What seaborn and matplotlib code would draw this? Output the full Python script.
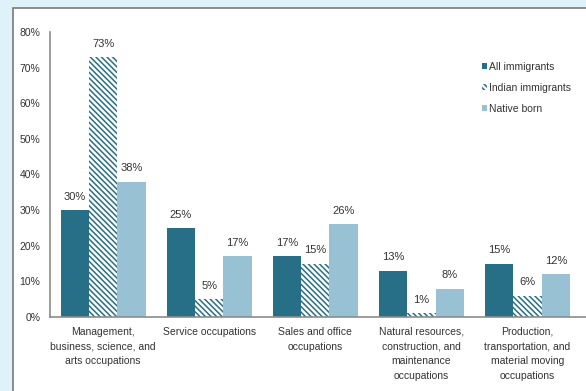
import matplotlib
matplotlib.use("Agg")
import matplotlib.pyplot as plt
from matplotlib.patches import Patch, Rectangle
import seaborn as sns
import pandas as pd

categories = [
    "Management,\nbusiness, science, and\narts occupations",
    "Service occupations",
    "Sales and office\noccupations",
    "Natural resources,\nconstruction, and\nmaintenance\noccupations",
    "Production,\ntransportation, and\nmaterial moving\noccupations",
]
series_names = ["All immigrants", "Indian immigrants", "Native born"]
all_immigrants = [30, 25, 17, 13, 15]
indian_immigrants = [73, 5, 15, 1, 6]
native_born = [38, 17, 26, 8, 12]
y_ticks = [0, 10, 20, 30, 40, 50, 60, 70, 80]

DARK = "#276f86"
LIGHT = "#98c2d3"
TEXT = "#333333"
HATCH = "\\" * 6

rows = []
for name, vals in zip(series_names, [all_immigrants, indian_immigrants, native_born]):
    for cat, v in zip(categories, vals):
        rows.append({"occupation": cat, "group": name, "pct": v})
df = pd.DataFrame(rows)

sns.set_theme(style="white")
plt.rcParams["font.family"] = ["Liberation Sans", "DejaVu Sans"]
plt.rcParams["hatch.linewidth"] = 1.1

fig = plt.figure(figsize=(5.86, 3.91), dpi=100)
fig.patch.set_facecolor("#dff1f9")
# white panel framing the chart
fig.patches.append(Rectangle((13 / 586, -0.1), 1.2, 1 - 8 / 391 + 0.1,
                             transform=fig.transFigure, facecolor="white",
                             edgecolor="#7a7a7a", linewidth=1.2, zorder=-10))

ax = fig.add_axes([50 / 586, 1 - 317 / 391, 536 / 586, 285 / 391])
ax.set_facecolor("none")

sns.barplot(data=df, x="occupation", y="pct", hue="group", order=categories,
            hue_order=series_names, palette=[DARK, "white", LIGHT],
            width=0.8, saturation=1, ax=ax, legend=False, linewidth=0)

# hatched bars for Indian immigrants
for bar in ax.containers[1]:
    bar.set_facecolor("white")
    bar.set_edgecolor(DARK)
    bar.set_hatch(HATCH)
    bar.set_linewidth(0)

for cont, vals in zip(ax.containers, [all_immigrants, indian_immigrants, native_born]):
    ax.bar_label(cont, labels=[f"{v}%" for v in vals], padding=6,
                 fontsize=8, color=TEXT)

ax.set_ylim(0, 80)
ax.set_xlim(-0.5, 4.55)
ax.set_yticks(y_ticks)
ax.set_yticklabels([f"{t}%" for t in y_ticks], fontsize=7.5, color=TEXT)
ax.set_xticks(range(len(categories)))
ax.set_xticklabels(categories, fontsize=7.5, color=TEXT, linespacing=1.6)
ax.tick_params(axis="both", length=0, pad=7)
ax.set_xlabel("")
ax.set_ylabel("")
for side in ["top", "right"]:
    ax.spines[side].set_visible(False)
for side in ["left", "bottom"]:
    ax.spines[side].set_color("#8c8c8c")
    ax.spines[side].set_linewidth(1.2)

handles = [
    Patch(facecolor=DARK, edgecolor="none", label=series_names[0]),
    Patch(facecolor="white", edgecolor=DARK, hatch=HATCH, linewidth=0, label=series_names[1]),
    Patch(facecolor=LIGHT, edgecolor="none", label=series_names[2]),
]
leg = fig.legend(handles=handles, loc="upper left",
                 bbox_to_anchor=(482 / 586, 1 - 62 / 391), frameon=False,
                 fontsize=7.5, handlelength=0.45, handleheight=0.45,
                 handletextpad=0.25, labelspacing=1.05, borderaxespad=0,
                 borderpad=0)
for t in leg.get_texts():
    t.set_color(TEXT)

fig.savefig("out.png", dpi=100, facecolor=fig.get_facecolor())
